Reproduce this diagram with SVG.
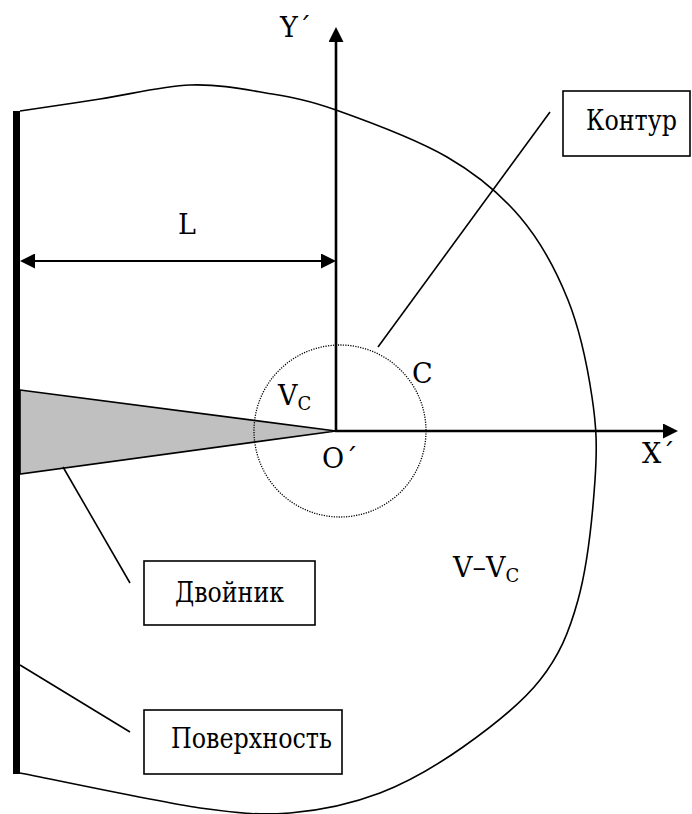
<svg xmlns="http://www.w3.org/2000/svg" width="692" height="814" viewBox="0 0 692 814">
<style>
text{font-family:'DejaVu Serif',serif;fill:#000;font-size:27px}
.sub{font-size:18px}
.box{fill:#fff;stroke:#000;stroke-width:1.6}
.ln{fill:none;stroke:#000;stroke-width:1.6}
.ax{fill:none;stroke:#000;stroke-width:2.6}
.dim{fill:none;stroke:#000;stroke-width:2.2}
</style>
<defs>
<marker id="arr" viewBox="0 0 15 15" refX="10" refY="7.5" markerWidth="15" markerHeight="15" orient="auto-start-reverse" markerUnits="userSpaceOnUse">
<path d="M0,0 L15,7.5 L0,15 Z" fill="#000"/>
</marker>
</defs>
<rect width="692" height="814" fill="#fff"/>
<g id="body">
<path class="ln" d="M20,111 C33.3,109 71.7,103.3 100,99 C128.3,94.7 162.3,86 190,85 C217.7,84 241.7,88.8 266,93 C290.3,97.2 305.8,99.3 336,110 C366.2,120.7 416.3,139.2 447,157 C477.7,174.8 499.8,193.2 520,217 C540.2,240.8 556,270 568,300 C580,330 587.5,367 592,397 C596.5,427 597.3,446.2 595,480 C592.7,513.8 587.2,566.7 578,600 C568.8,633.3 559.2,655.5 540,680 C520.8,704.5 489.7,728.2 463,747 C436.3,765.8 408.8,782 380,793 C351.2,804 320,810.5 290,813 C260,815 245,814 200,808 C155,801.3 50,778.8 20,773"/>
</g>
<g id="twin">
<polygon points="20,390 336,431 20,474" fill="#c0c0c0" stroke="#000" stroke-width="1.6"/>
</g>
<g id="surface">
<rect x="13" y="111" width="7" height="663" fill="#000"/>
</g>
<g id="contour-c">
<circle cx="340" cy="431" r="86" fill="none" stroke="#000" stroke-width="1.3" stroke-dasharray="1.2 1.3"/>
</g>
<g id="connectors">
<line class="ax" x1="336" y1="432" x2="336" y2="32" marker-end="url(#arr)"/>
<line class="ax" x1="335" y1="431" x2="673" y2="431" marker-end="url(#arr)"/>
<line class="dim" x1="25" y1="261" x2="331" y2="261" marker-start="url(#arr)" marker-end="url(#arr)"/>
<line class="ln" x1="550" y1="112" x2="378" y2="347"/>
<line class="ln" x1="63" y1="467" x2="130" y2="583"/>
<line class="ln" x1="20" y1="665" x2="130" y2="732"/>
</g>
<g id="label-contour">
<rect class="box" x="563" y="91" width="127" height="65"/>
<text x="586" y="130" textLength="91" lengthAdjust="spacingAndGlyphs">Контур</text>
</g>
<g id="label-twin">
<rect class="box" x="144" y="561" width="171" height="64"/>
<text x="175" y="602" textLength="109" lengthAdjust="spacingAndGlyphs">Двойник</text>
</g>
<g id="label-surface">
<rect class="box" x="144" y="710" width="198" height="64"/>
<text x="171" y="748" textLength="161" lengthAdjust="spacingAndGlyphs">Поверхность</text>
</g>
<g id="labels">
<text x="280" y="37">Y´</text>
<text x="178" y="234">L</text>
<text x="412" y="383">C</text>
<text x="278" y="405">V<tspan class="sub" dy="5">C</tspan></text>
<text x="322" y="468">O´</text>
<text x="642" y="463">X´</text>
<text x="453" y="577">V–V<tspan class="sub" dy="5">C</tspan></text>
</g>
</svg>
